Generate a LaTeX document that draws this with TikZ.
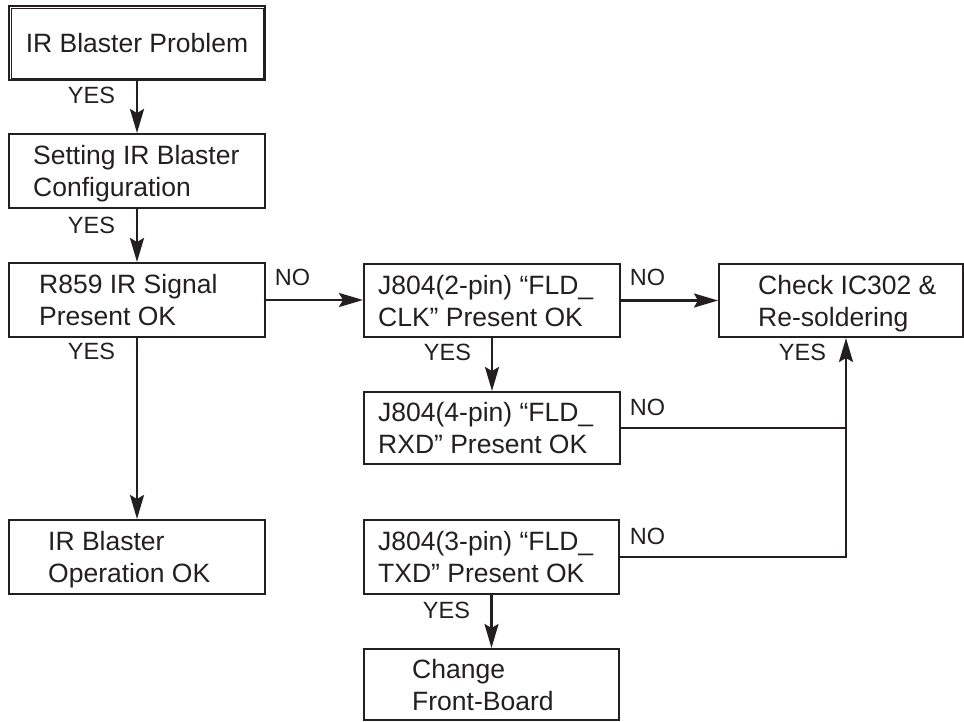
\documentclass[tikz,border=0pt]{standalone}
\usepackage{fontspec}
\setmainfont{Liberation Sans}
\usetikzlibrary{arrows.meta}
\definecolor{ink}{RGB}{35,31,32}
\begin{document}
\begin{tikzpicture}[x=1pt,y=-1pt,
  box/.style={draw=ink, line width=2pt, rectangle, inner sep=0pt, anchor=north west},
  txt/.style={text=ink, font=\fontsize{26.5}{32}\selectfont, align=left, anchor=west, inner sep=0pt, text depth=0pt},
  lbl/.style={text=ink, font=\fontsize{23.5}{27}\selectfont, inner sep=0pt},
  conn/.style={draw=ink, line width=2.5pt},
  arr/.style={conn, -{Stealth[length=24pt,width=14pt,inset=4pt]}}]
\useasboundingbox (0,0) rectangle (964,721);

% boxes
\node[box, minimum width=256pt, minimum height=74pt, text=ink, font=\fontsize{26.5}{32}\selectfont] (b1) at (8,5) {IR Blaster Problem};
\draw[ink, line width=0.8pt] ([shift={(3,3)}]b1.north west) rectangle ([shift={(-3,-3)}]b1.south east);
\node[box, minimum width=256pt, minimum height=74pt] (b2) at (8,133) {};
\node[box, minimum width=256pt, minimum height=74pt] (b3) at (8,262) {};
\node[box, minimum width=256pt, minimum height=74pt] (b9) at (8,519) {};
\node[box, minimum width=256pt, minimum height=73pt] (b4) at (363,263) {};
\node[box, minimum width=244pt, minimum height=73pt] (b5) at (718,263) {};
\node[box, minimum width=256pt, minimum height=72pt] (b6) at (363,391) {};
\node[box, minimum width=255pt, minimum height=74pt] (b7) at (363,519) {};
\node[box, minimum width=255pt, minimum height=71pt] (b8) at (363,648) {};

% box texts
\node[txt] (t2) at ([xshift=25pt]b2.west) {Setting IR Blaster\\Configuration};
\node[txt] (t3) at ([xshift=31pt]b3.west) {R859 IR Signal\\Present OK};
\node[txt] (t9) at ([xshift=40pt]b9.west) {IR Blaster\\Operation OK};
\node[txt] (t4) at ([xshift=15pt]b4.west) {J804(2-pin) “FLD\_\\CLK” Present OK};
\node[txt] (t5) at ([xshift=40pt]b5.west) {Check IC302 \&\\Re-soldering};
\node[txt] (t6) at ([xshift=15pt]b6.west) {J804(4-pin) “FLD\_\\RXD” Present OK};
\node[txt] (t7) at ([xshift=15pt]b7.west) {J804(3-pin) “FLD\_\\TXD” Present OK};
\node[txt] (t8) at ([xshift=49pt]b8.west) {Change\\Front-Board};

% labels
\node[lbl] (y1) at (91.5,95) {YES};
\node[lbl] (y2) at (91.5,225) {YES};
\node[lbl] (y3) at (91.5,351) {YES};
\node[lbl] (n1) at (292.5,277.5) {NO};
\node[lbl] (n2) at (647.5,277.5) {NO};
\node[lbl] (y4) at (447.5,352.5) {YES};
\node[lbl] (y5) at (802.5,352.5) {YES};
\node[lbl] (n3) at (647.5,407.5) {NO};
\node[lbl] (n4) at (647.5,536) {NO};
\node[lbl] (y6) at (446.5,610) {YES};

% connectors
\draw[arr] (b1.south) -- (b2.north);
\draw[arr] (b2.south) -- (b3.north);
\draw[arr] (b3.south) -- (b9.north);
\draw[arr] (b3.east) -- (b3.east -| b4.west);
\draw[arr] (b4.east) -- (b4.east -| b5.west);
\draw[arr] (b4.south) -- (b6.north);
\draw[arr] (b7.south) -- (b8.north);
\coordinate (jx) at (846,0);
\draw[conn] (b6.east) -- (b6.east -| jx);
\draw[arr] (b7.east) -| (b5.south -| jx);
\end{tikzpicture}
\end{document}
